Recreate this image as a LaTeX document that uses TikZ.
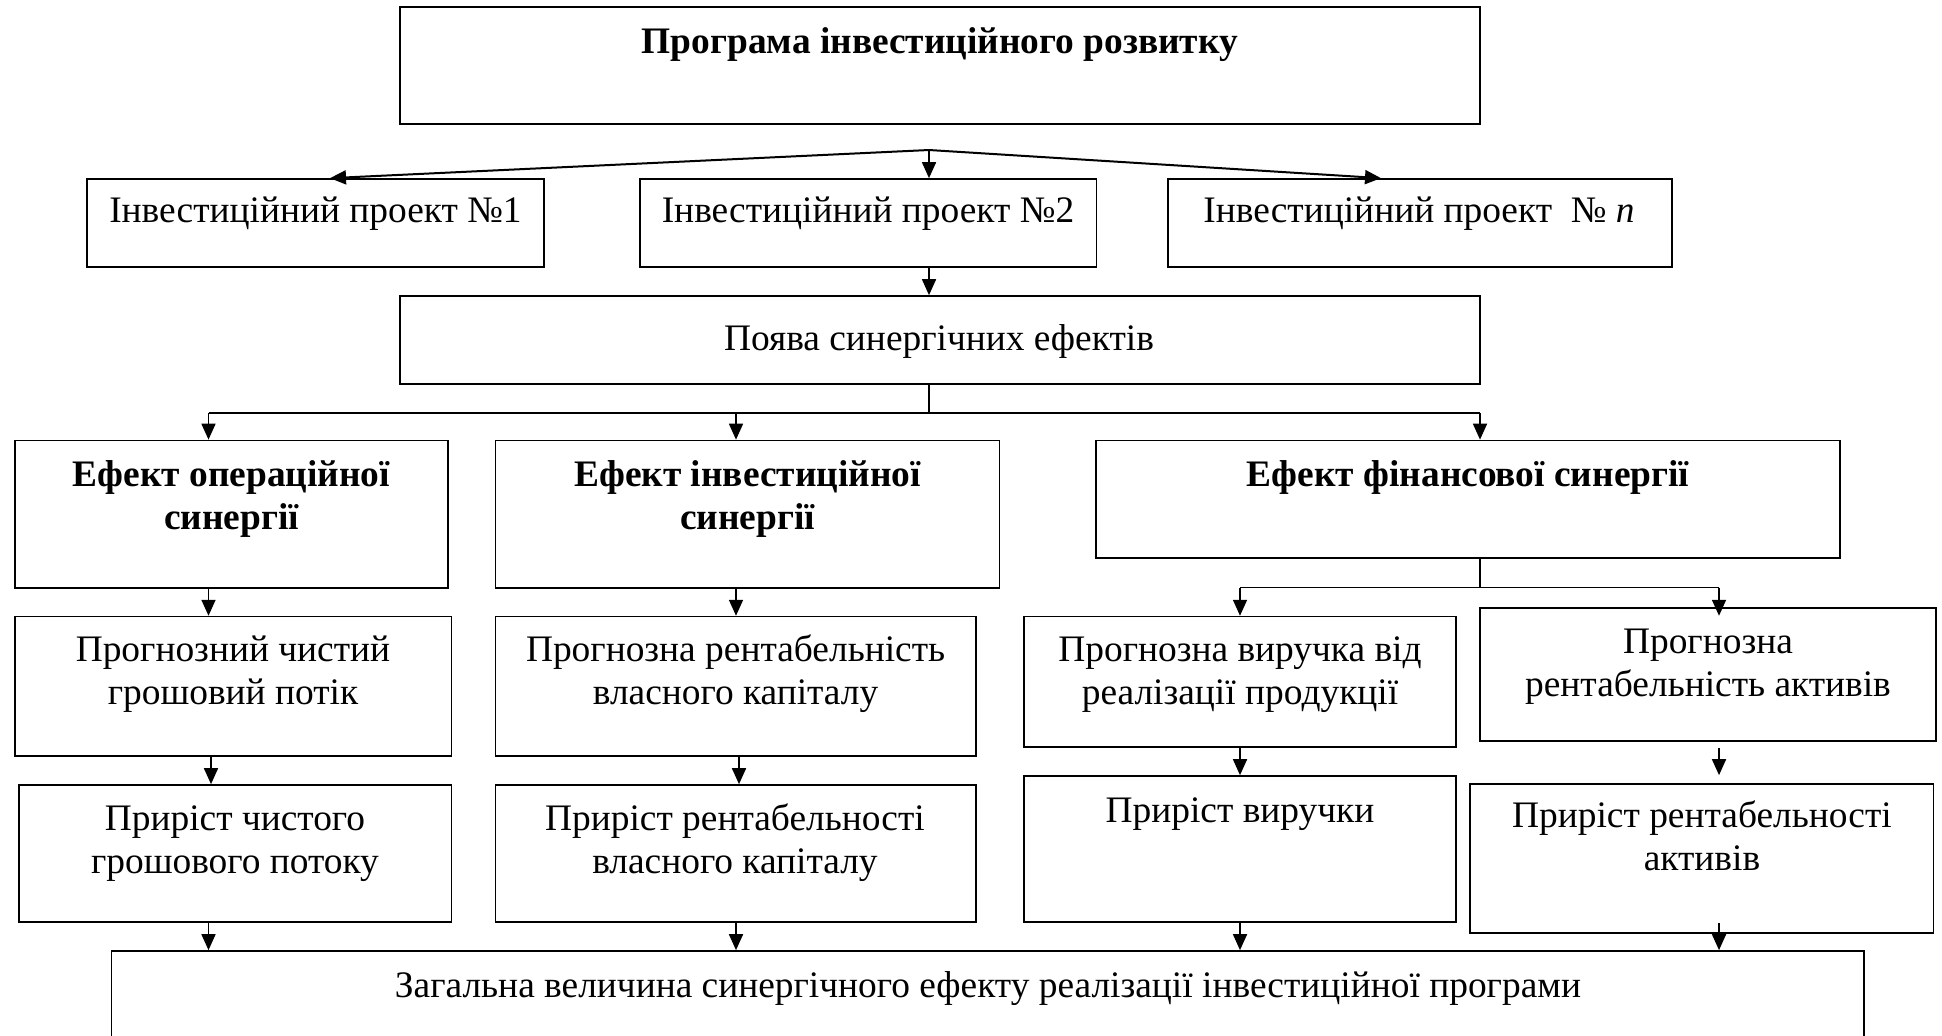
\documentclass[tikz,border=0pt]{standalone}
\usepackage{fontspec}
\setmainfont{Liberation Serif}
\usetikzlibrary{arrows.meta,fit,calc}
\newcommand\boxtext[1]{\parbox[t]{420pt}{\centering #1}}
\begin{document}
\begin{tikzpicture}[x=0.5pt,y=-0.5pt,
  box/.style={draw, line width=0.85pt, inner sep=0pt},
  txt/.style={anchor=base, inner sep=0pt, font=\fontsize{18.7}{21.5}\selectfont},
  ln/.style={line width=0.85pt},
  arr/.style={line width=0.85pt, -{Triangle[length=8pt,width=7pt]}}]
\useasboundingbox (0,0) rectangle (1942,1035);

% boxes
\node[box, fit={(400,7) (1480,124)}] (prog) {};
\node[box, fit={(87,179) (544,267)}] (p1) {};
\node[box, fit={(640,179) (1096.5,267)}] (p2) {};
\node[box, fit={(1168,179) (1672,267)}] (pn) {};
\node[box, fit={(400,296) (1480,384)}] (syn) {};
\node[box, fit={(15,440.5) (448,588)}] (a1) {};
\node[box, fit={(495.5,440.5) (999.4,588)}] (b1) {};
\node[box, fit={(1096,440.5) (1840,558)}] (c1) {};
\node[box, fit={(15,616.6) (451.5,756)}] (a2) {};
\node[box, fit={(495.5,616.6) (975.8,756)}] (b2) {};
\node[box, fit={(1024,616.6) (1456,747)}] (c2) {};
\node[box, fit={(1480,608) (1936,741)}] (d2) {};
\node[box, fit={(19,785) (451.5,922)}] (a3) {};
\node[box, fit={(495.5,785) (975.8,922)}] (b3) {};
\node[box, fit={(1024,776) (1456,922)}] (c3) {};
\node[box, fit={(1470,784) (1933.6,933)}] (d3) {};
\node[box, fit={(111.6,951) (1864,1110)}] (z) {};

% texts
\node[txt] (prog-t) at (940,53) {\bfseries Програма інвестиційного розвитку};
\node[txt] (p1-t) at (315.5,222.7) {Інвестиційний проект №1};
\node[txt] (p2-t) at (868,222.7) {Інвестиційний проект №2};
\node[txt] (pn-t) at (1419,222.7) {Інвестиційний проект\ \ № \textit{n}};
\node[txt] (syn-t) at (939,350) {Поява синергічних ефектів};
\node[txt] (a1-t) at (231.5,486) {\boxtext{\bfseries Ефект операційної\\синергії}};
\node[txt] (b1-t) at (747.5,486) {\boxtext{\bfseries Ефект інвестиційної\\синергії}};
\node[txt] (c1-t) at (1468,486) {\bfseries Ефект фінансової синергії};
\node[txt] (a2-t) at (233,661) {\boxtext{Прогнозний чистий\\грошовий потік}};
\node[txt] (b2-t) at (735.6,661) {\boxtext{Прогнозна рентабельність\\власного капіталу}};
\node[txt] (c2-t) at (1240,661) {\boxtext{Прогнозна виручка від\\реалізації продукції}};
\node[txt] (d2-t) at (1708,653) {\boxtext{Прогнозна\\рентабельність активів}};
\node[txt] (a3-t) at (235,830) {\boxtext{Приріст чистого\\грошового потоку}};
\node[txt] (b3-t) at (735,830) {\boxtext{Приріст рентабельності\\власного капіталу}};
\node[txt] (c3-t) at (1240,822) {Приріст виручки};
\node[txt] (d3-t) at (1702,827) {\boxtext{Приріст рентабельності\\активів}};
\node[txt] (z-t) at (988,997) {Загальна величина синергічного ефекту реалізації інвестиційної програми};

% fork to the projects
\coordinate (fork) at (929,150);
\draw[arr, line width=1pt] (fork) -- ($(p1.north)+(14.5,0)$);
\draw[arr] (fork) -- (fork |- p2.north);
\draw[arr, line width=1pt] (fork) -- ($(pn.north)+(-39,0)$);
\draw[arr] (p2.south -| fork) -- (syn.north -| fork);

% bus to the three effects
\coordinate (colA) at (208.5,413);
\coordinate (colB) at (736,413);
\coordinate (colC) at (1480,413);
\draw[ln] (syn.south -| fork) -- (fork |- colA);
\draw[ln] (colA) -- (colC);
\draw[arr] (colA) -- (colA |- a1.north);
\draw[arr] (colB) -- (colB |- b1.north);
\draw[arr] (colC) -- (colC |- c1.north);

% financial synergy split
\coordinate (colC2) at (1240,587.5);
\coordinate (colD) at (1719,587.5);
\draw[ln] (c1.south -| colC) -- (colC |- colC2);
\draw[ln] (colC2) -- (colD);
\draw[arr] (colC2) -- (colC2 |- c2.north);
\draw[arr] (colD) -- ($(colD |- d2.north)+(0,8.6)$);

% column chains
\draw[arr] (a1.south -| colA) -- (a2.north -| colA);
\draw[arr] ($(a2.south -| colA)+(2.5,0)$) -- ($(a3.north -| colA)+(2.5,0)$);
\draw[arr] (a3.south -| colA) -- (z.north -| colA);
\draw[arr] (b1.south -| colB) -- (b2.north -| colB);
\draw[arr] ($(b2.south -| colB)+(3,0)$) -- ($(b3.north -| colB)+(3,0)$);
\draw[arr] (b3.south -| colB) -- (z.north -| colB);
\draw[arr] (c2.south -| colC2) -- (c3.north -| colC2);
\draw[arr] (c3.south -| colC2) -- (z.north -| colC2);
\draw[arr] ($(d2.south -| colD)+(0,6)$) -- ($(d3.north -| colD)+(0,-8)$);
\draw[arr] ($(d3.south -| colD)+(0,-11)$) -- (z.north -| colD);
\end{tikzpicture}
\end{document}
